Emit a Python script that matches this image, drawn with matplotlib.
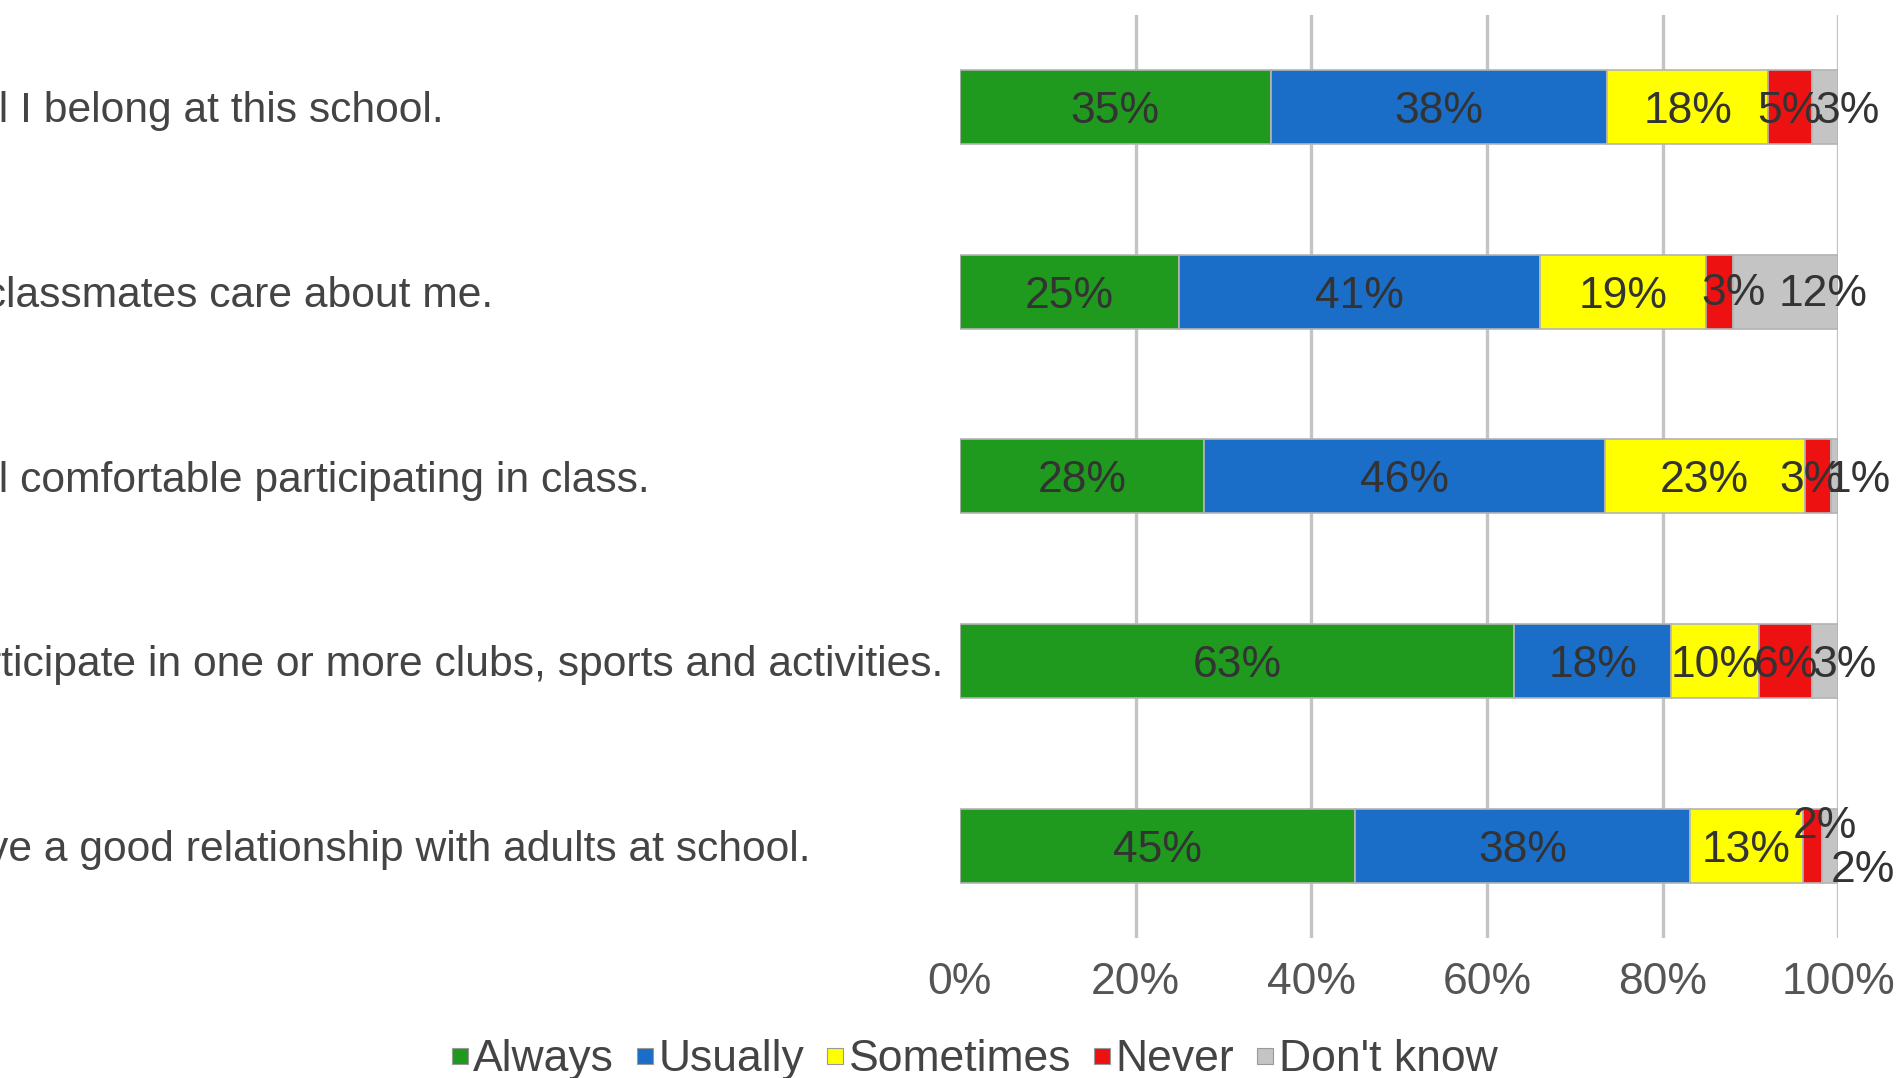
import numpy as np
import matplotlib.pyplot as plt
from matplotlib.lines import Line2D
from matplotlib.transforms import blended_transform_factory

# ======================
# Data (percent of responses)
# ======================
statements = [
    "I feel I belong at this school.",
    "My classmates care about me.",
    "I feel comfortable participating in class.",
    "I participate in one or more clubs, sports and activities.",
    "I have a good relationship with adults at school.",
]
answers = ["Always", "Usually", "Sometimes", "Never", "Don't know"]

always     = [35.4, 24.9, 27.8, 63.1, 45.0]
usually    = [38.3, 41.1, 45.6, 17.9, 38.1]
sometimes  = [18.3, 19.0, 22.8, 10.0, 12.9]
never      = [5.0, 3.0, 3.0, 6.0, 2.1]
dont_know  = [3.0, 12.0, 0.8, 3.0, 1.9]

xticks = [0, 20, 40, 60, 80, 100]

# ======================
# Style
# ======================
colors = ["#1f9a1f", "#1a6ec7", "#ffff00", "#ee1111", "#c4c4c4"]
plt.rcParams["font.family"] = ["Liberation Sans", "DejaVu Sans"]
FS = 32

# label nudges (points) where Sheets pushed small labels apart: (row, series)
nudge = {
    (0, 4): (16, 0),
    (1, 3): (10, 2), (1, 4): (27, 1),
    (2, 3): (-5, 0), (2, 4): (17, 0),
    (3, 4): (14, 0),
    (4, 3): (9, 17), (4, 4): (24, -15),
}

fig = plt.figure(figsize=(18.97, 10.78), dpi=100)
ax = fig.add_axes([0.506, 0.1299, 0.463, 0.8566])

series = [always, usually, sometimes, never, dont_know]
vals = np.array(series, dtype=float)
pct = vals / vals.sum(axis=0) * 100
y = np.arange(len(statements))

left = np.zeros(len(statements))
for i, col in enumerate(colors):
    ax.barh(y, pct[i], left=left, height=0.4, color=col,
            edgecolor="#b4b4b4", linewidth=1.2, zorder=3)
    for j in range(len(statements)):
        dx, dy = nudge.get((j, i), (0, 0))
        ax.annotate(f"{round(vals[i][j])}%", (left[j] + pct[i][j] / 2, y[j]),
                    xytext=(dx, dy), textcoords="offset points",
                    ha="center", va="center_baseline", fontsize=FS,
                    color="#333333", zorder=4)
    left += pct[i]

ax.set_xlim(0, 100)
ax.set_ylim(len(statements) - 0.5, -0.5)
ax.set_xticks(xticks)
ax.set_xticklabels([f"{t}%" for t in xticks], fontsize=FS, color="#555555")
ax.set_yticks([])
for t in xticks[1:]:
    ax.axvline(t, color="#c4c4c4", linewidth=2.4, zorder=1)
ax.tick_params(axis="x", length=0, pad=17)
for s in ax.spines.values():
    s.set_visible(False)

# category labels, left-aligned and cut off by the figure's left edge
lab_trans = blended_transform_factory(fig.transFigure, ax.transData)
for j, lab in enumerate(statements):
    ax.text(-0.0443, y[j], lab, transform=lab_trans, ha="left",
            va="center_baseline", fontsize=30.7, color="#444444", clip_on=False)

handles = [Line2D([0], [0], marker="s", linestyle="none", markersize=11,
                  markerfacecolor=c, markeredgecolor="#999999", markeredgewidth=0.8)
           for c in colors]
fig.legend(handles, answers, loc="center", bbox_to_anchor=(0.513, 0.017), ncol=5,
           frameon=False, handlelength=0.5, handletextpad=0.05, columnspacing=0.45,
           fontsize=FS, labelcolor="#444444")

plt.savefig("out.png", dpi=100)
